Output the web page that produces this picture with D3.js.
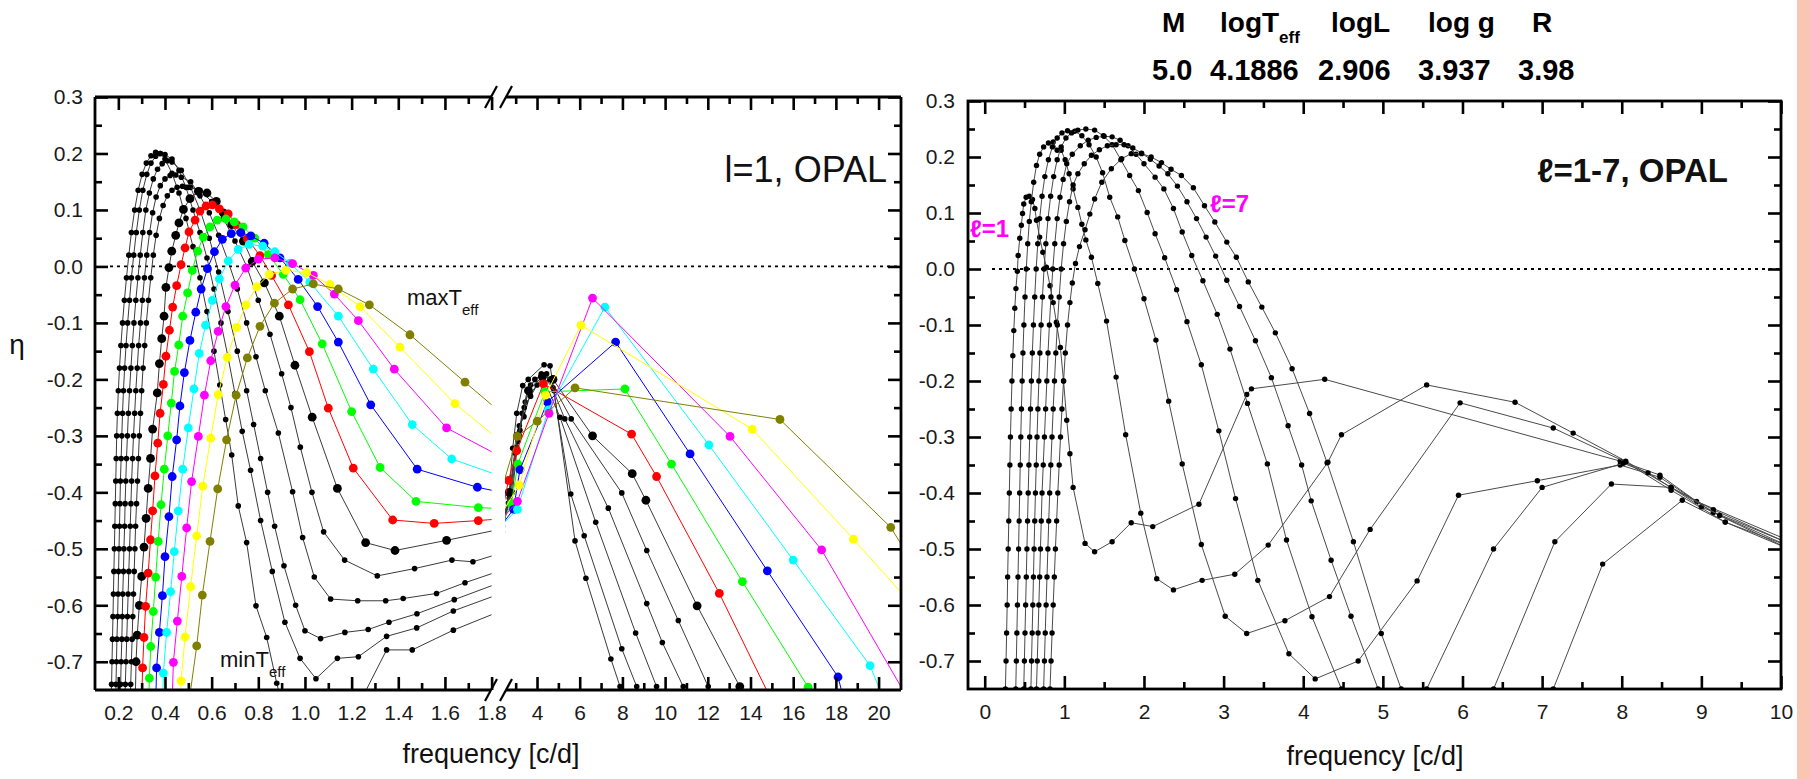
<!DOCTYPE html>
<html>
<head>
<meta charset="utf-8">
<script src="https://cdn.jsdelivr.net/npm/d3@7"></script>
<style>
  body { margin: 0; background: #fff; }
  svg { display: block; }
</style>
</head>
<body>
<script>
// ---------- data: left panel, l=1, segment A (0.1 - 1.8 c/d) ----------
const k1A = [[0.168,-0.78],[0.171,-0.74],[0.173,-0.70],[0.175,-0.66],[0.177,-0.62],[0.179,-0.58],[0.181,-0.54],[0.183,-0.50],[0.185,-0.46],[0.187,-0.42],[0.189,-0.38],[0.191,-0.34],[0.193,-0.30],[0.196,-0.26],[0.2,-0.22],[0.205,-0.18],[0.211,-0.14],[0.218,-0.10],[0.226,-0.06],[0.235,-0.02],[0.245,0.02],[0.256,0.06],[0.27,0.10],[0.285,0.135],[0.302,0.163],[0.32,0.183],[0.34,0.196],[0.36,0.202],[0.38,0.2],[0.40,0.19],[0.43,0.165],[0.46,0.13],[0.49,0.085],[0.52,0.035],[0.55,-0.02],[0.58,-0.08],[0.61,-0.15],[0.635,-0.21],[0.66,-0.271],[0.686,-0.334],[0.714,-0.424],[0.75,-0.489],[0.79,-0.601],[0.836,-0.657],[0.879,-0.738],[0.93,-0.82],[1.1,-0.86],[1.25,-0.76],[1.35,-0.679],[1.46,-0.679],[1.636,-0.644],[1.9,-0.6]];
const k2A = [[0.188,-0.78],[0.19,-0.74],[0.192,-0.70],[0.194,-0.66],[0.197,-0.62],[0.199,-0.58],[0.201,-0.54],[0.203,-0.50],[0.205,-0.46],[0.207,-0.42],[0.209,-0.38],[0.212,-0.34],[0.215,-0.30],[0.218,-0.26],[0.222,-0.22],[0.227,-0.18],[0.233,-0.14],[0.24,-0.10],[0.248,-0.06],[0.256,-0.02],[0.266,0.02],[0.277,0.06],[0.29,0.10],[0.305,0.135],[0.322,0.163],[0.34,0.183],[0.36,0.195],[0.38,0.2],[0.40,0.198],[0.43,0.19],[0.46,0.17],[0.49,0.14],[0.52,0.1],[0.55,0.06],[0.58,0.015],[0.61,-0.04],[0.64,-0.1],[0.67,-0.16],[0.70,-0.225],[0.731,-0.292],[0.767,-0.361],[0.81,-0.45],[0.86,-0.54],[0.914,-0.63],[0.979,-0.694],[1.047,-0.73],[1.139,-0.694],[1.229,-0.691],[1.35,-0.655],[1.479,-0.64],[1.636,-0.61],[1.9,-0.57]];
const k3A = [[0.208,-0.78],[0.21,-0.74],[0.212,-0.70],[0.215,-0.66],[0.217,-0.62],[0.219,-0.58],[0.222,-0.54],[0.224,-0.50],[0.227,-0.46],[0.229,-0.42],[0.232,-0.38],[0.235,-0.34],[0.239,-0.30],[0.243,-0.26],[0.248,-0.22],[0.254,-0.18],[0.26,-0.14],[0.267,-0.10],[0.275,-0.06],[0.284,-0.02],[0.294,0.02],[0.305,0.06],[0.318,0.10],[0.333,0.13],[0.35,0.155],[0.368,0.172],[0.388,0.182],[0.41,0.187],[0.43,0.185],[0.47,0.17],[0.51,0.14],[0.55,0.1],[0.59,0.05],[0.63,-0.01],[0.67,-0.08],[0.71,-0.15],[0.75,-0.22],[0.78,-0.28],[0.81,-0.34],[0.84,-0.40],[0.87,-0.46],[0.91,-0.53],[0.96,-0.6],[1.0,-0.645],[1.067,-0.659],[1.171,-0.648],[1.271,-0.643],[1.36,-0.63],[1.48,-0.615],[1.64,-0.59],[1.9,-0.55]];
const k4A = [[0.228,-0.78],[0.23,-0.74],[0.233,-0.70],[0.236,-0.66],[0.239,-0.62],[0.242,-0.58],[0.245,-0.54],[0.248,-0.50],[0.251,-0.46],[0.254,-0.42],[0.257,-0.38],[0.261,-0.34],[0.265,-0.30],[0.27,-0.26],[0.275,-0.22],[0.281,-0.18],[0.287,-0.14],[0.295,-0.10],[0.303,-0.06],[0.312,-0.02],[0.322,0.02],[0.334,0.06],[0.347,0.095],[0.362,0.123],[0.38,0.143],[0.4,0.155],[0.422,0.161],[0.446,0.162],[0.47,0.158],[0.51,0.15],[0.55,0.125],[0.59,0.095],[0.63,0.055],[0.67,0.01],[0.71,-0.04],[0.75,-0.1],[0.79,-0.16],[0.83,-0.22],[0.886,-0.295],[0.947,-0.399],[0.99,-0.48],[1.04,-0.55],[1.11,-0.589],[1.226,-0.592],[1.346,-0.592],[1.421,-0.588],[1.564,-0.579],[1.686,-0.56],[1.9,-0.53]];
const k5A = [[0.25,-0.78],[0.253,-0.74],[0.256,-0.70],[0.259,-0.66],[0.262,-0.62],[0.265,-0.58],[0.268,-0.54],[0.271,-0.50],[0.274,-0.46],[0.278,-0.42],[0.282,-0.38],[0.286,-0.34],[0.29,-0.30],[0.295,-0.26],[0.3,-0.22],[0.306,-0.18],[0.313,-0.14],[0.32,-0.10],[0.329,-0.06],[0.339,-0.02],[0.35,0.02],[0.362,0.055],[0.376,0.085],[0.392,0.108],[0.41,0.125],[0.43,0.135],[0.452,0.14],[0.475,0.142],[0.5,0.14],[0.55,0.135],[0.6,0.115],[0.65,0.085],[0.7,0.045],[0.75,0.0],[0.8,-0.06],[0.85,-0.12],[0.9,-0.19],[0.94,-0.25],[0.98,-0.32],[1.03,-0.40],[1.08,-0.47],[1.17,-0.52],[1.31,-0.548],[1.47,-0.535],[1.63,-0.52],[1.72,-0.523],[1.9,-0.5]];
const kLA = [[0.272,-0.78],[0.276,-0.70],[0.281,-0.653],[0.29,-0.60],[0.3,-0.549],[0.31,-0.497],[0.319,-0.446],[0.328,-0.393],[0.338,-0.34],[0.347,-0.288],[0.367,-0.224],[0.376,-0.172],[0.386,-0.128],[0.396,-0.088],[0.404,-0.037],[0.417,-0.002],[0.429,0.027],[0.446,0.055],[0.46,0.077],[0.479,0.101],[0.507,0.12],[0.543,0.133],[0.58,0.13],[0.62,0.115],[0.65,0.095],[0.686,0.074],[0.736,0.045],[0.774,0.009],[0.826,-0.029],[0.89,-0.088],[0.957,-0.175],[1.031,-0.267],[1.139,-0.393],[1.26,-0.489],[1.386,-0.503],[1.607,-0.485],[1.9,-0.46]];
const redA = [[0.3,-0.78],[0.304,-0.711],[0.31,-0.657],[0.317,-0.602],[0.328,-0.543],[0.338,-0.484],[0.347,-0.433],[0.357,-0.371],[0.369,-0.313],[0.379,-0.26],[0.393,-0.209],[0.404,-0.159],[0.419,-0.113],[0.433,-0.072],[0.45,-0.034],[0.469,0.003],[0.486,0.033],[0.503,0.061],[0.529,0.082],[0.55,0.098],[0.576,0.107],[0.603,0.109],[0.633,0.102],[0.671,0.093],[0.707,0.074],[0.753,0.049],[0.807,0.019],[0.857,-0.016],[0.929,-0.068],[1.019,-0.151],[1.1,-0.251],[1.207,-0.357],[1.376,-0.449],[1.554,-0.455],[1.743,-0.45],[1.9,-0.445]];
const greenA = [[0.33,-0.78],[0.333,-0.729],[0.339,-0.673],[0.35,-0.611],[0.36,-0.55],[0.371,-0.487],[0.383,-0.422],[0.397,-0.359],[0.412,-0.3],[0.427,-0.242],[0.441,-0.186],[0.459,-0.139],[0.476,-0.088],[0.497,-0.047],[0.517,-0.007],[0.54,0.027],[0.564,0.052],[0.593,0.07],[0.624,0.082],[0.661,0.084],[0.697,0.079],[0.735,0.07],[0.785,0.05],[0.843,0.021],[0.907,-0.014],[0.979,-0.059],[1.074,-0.137],[1.2,-0.257],[1.322,-0.356],[1.476,-0.416],[1.743,-0.427],[1.9,-0.43]];
const blueA = [[0.36,-0.78],[0.364,-0.711],[0.376,-0.648],[0.389,-0.583],[0.4,-0.514],[0.417,-0.443],[0.431,-0.372],[0.45,-0.307],[0.464,-0.247],[0.483,-0.188],[0.507,-0.131],[0.532,-0.081],[0.555,-0.04],[0.582,-0.004],[0.612,0.026],[0.646,0.048],[0.684,0.058],[0.725,0.06],[0.768,0.054],[0.825,0.041],[0.893,0.015],[0.971,-0.023],[1.054,-0.071],[1.143,-0.134],[1.282,-0.245],[1.481,-0.359],[1.739,-0.391],[1.9,-0.405]];
const cyanA = [[0.39,-0.78],[0.393,-0.72],[0.407,-0.648],[0.424,-0.576],[0.44,-0.505],[0.457,-0.433],[0.476,-0.359],[0.5,-0.286],[0.524,-0.217],[0.547,-0.154],[0.574,-0.104],[0.603,-0.06],[0.633,-0.022],[0.671,0.01],[0.714,0.03],[0.761,0.039],[0.819,0.036],[0.871,0.026],[0.936,0.006],[1.021,-0.028],[1.143,-0.088],[1.293,-0.182],[1.46,-0.28],[1.629,-0.341],[1.9,-0.38]];
const magentaA = [[0.43,-0.78],[0.436,-0.701],[0.453,-0.628],[0.472,-0.549],[0.493,-0.463],[0.514,-0.381],[0.543,-0.301],[0.569,-0.228],[0.596,-0.167],[0.628,-0.115],[0.661,-0.071],[0.7,-0.033],[0.746,-0.003],[0.8,0.013],[0.871,0.015],[0.947,0.005],[1.036,-0.016],[1.126,-0.049],[1.229,-0.096],[1.383,-0.182],[1.607,-0.286],[1.9,-0.35]];
const yellowA = [[0.465,-0.78],[0.469,-0.734],[0.486,-0.656],[0.51,-0.567],[0.536,-0.477],[0.562,-0.389],[0.596,-0.304],[0.628,-0.227],[0.667,-0.161],[0.707,-0.108],[0.747,-0.068],[0.793,-0.036],[0.847,-0.014],[0.918,-0.007],[1.007,-0.011],[1.107,-0.032],[1.236,-0.071],[1.407,-0.143],[1.643,-0.243],[1.9,-0.33]];
const oliveA = [[0.5,-0.78],[0.536,-0.672],[0.56,-0.582],[0.593,-0.487],[0.626,-0.394],[0.664,-0.307],[0.705,-0.228],[0.753,-0.162],[0.807,-0.106],[0.869,-0.065],[0.947,-0.04],[1.036,-0.031],[1.143,-0.04],[1.276,-0.068],[1.45,-0.121],[1.686,-0.205],[1.9,-0.28]];

// ---------- data: left panel, segment B (2.5 - 21 c/d) ----------
const k1B = [[2.3,-0.48],[2.66,-0.419],[2.86,-0.322],[3.05,-0.26],[3.33,-0.211],[3.59,-0.2],[4.33,-0.174],[4.61,-0.176],[4.8,-0.22],[5.78,-0.486],[6.29,-0.552],[7.46,-0.695],[7.89,-0.744],[8.5,-0.82]];
const k2B = [[2.3,-0.47],[2.7,-0.41],[2.95,-0.33],[3.17,-0.282],[3.39,-0.266],[3.67,-0.227],[4.27,-0.195],[4.75,-0.215],[5.58,-0.403],[6.21,-0.477],[7.97,-0.677],[8.67,-0.744],[9.3,-0.8]];
const k3B = [[2.3,-0.47],[2.75,-0.40],[3.0,-0.33],[3.2,-0.29],[3.45,-0.24],[3.7,-0.21],[4.2,-0.19],[5.08,-0.267],[6.75,-0.453],[8.62,-0.649],[9.6,-0.744],[10.2,-0.8]];
const k4B = [[2.3,-0.47],[2.8,-0.40],[3.05,-0.32],[3.3,-0.26],[3.55,-0.22],[3.9,-0.2],[4.45,-0.19],[5.3,-0.27],[7.34,-0.428],[9.14,-0.597],[9.87,-0.666],[10.85,-0.744],[11.5,-0.8]];
const k5B = [[2.3,-0.47],[2.85,-0.40],[3.1,-0.31],[3.4,-0.25],[3.7,-0.23],[4.0,-0.21],[4.6,-0.2],[5.6,-0.27],[7.97,-0.401],[9.14,-0.503],[10.62,-0.627],[12.02,-0.744],[12.8,-0.8]];
const kLB = [[2.3,-0.47],[2.7,-0.40],[3.1,-0.3],[3.6,-0.22],[4.25,-0.195],[4.75,-0.2],[6.6,-0.3],[8.46,-0.367],[9.1,-0.414],[11.5,-0.601],[13.5,-0.744],[14.3,-0.8]];
const redB = [[2.3,-0.45],[2.66,-0.379],[3.05,-0.326],[4.3,-0.208],[8.43,-0.297],[9.6,-0.372],[12.54,-0.579],[15.4,-0.8]];
const greenB = [[2.3,-0.46],[2.8,-0.42],[3.1,-0.35],[4.37,-0.222],[8.12,-0.217],[10.3,-0.35],[13.62,-0.558],[16.7,-0.745],[17.3,-0.8]];
const blueB = [[2.3,-0.46],[2.9,-0.43],[3.2,-0.36],[4.48,-0.24],[7.68,-0.134],[11.17,-0.332],[14.79,-0.539],[18.1,-0.727],[18.6,-0.8]];
const cyanB = [[2.3,-0.46],[3.08,-0.43],[4.53,-0.254],[7.18,-0.072],[12.05,-0.316],[16.0,-0.52],[19.6,-0.707],[20.6,-0.8]];
const magentaB = [[2.3,-0.45],[3.08,-0.416],[4.56,-0.26],[6.6,-0.056],[13.04,-0.301],[17.33,-0.502],[21.6,-0.78]];
const yellowB = [[2.3,-0.44],[3.17,-0.387],[4.4,-0.228],[6.06,-0.104],[14.08,-0.288],[18.82,-0.483],[22.3,-0.63]];
const oliveB = [[2.3,-0.4],[3.08,-0.301],[4.01,-0.274],[5.78,-0.215],[15.38,-0.271],[20.57,-0.462],[22,-0.55]];

// ---------- data: right panel, l = 1..7 ----------
const ell1 = [[0.255,-0.78],[0.26,-0.75],[0.268,-0.70],[0.275,-0.65],[0.282,-0.60],[0.288,-0.55],[0.295,-0.50],[0.302,-0.45],[0.309,-0.40],[0.316,-0.35],[0.323,-0.30],[0.332,-0.25],[0.342,-0.20],[0.353,-0.155],[0.365,-0.11],[0.378,-0.07],[0.392,-0.035],[0.41,-0.004],[0.42,0.024],[0.44,0.055],[0.46,0.078],[0.475,0.099],[0.49,0.116],[0.52,0.128],[0.56,0.13],[0.6,0.124],[0.63,0.108],[0.65,0.087],[0.69,0.057],[0.73,0.03],[0.775,0.003],[0.82,-0.03],[0.86,-0.06],[0.9,-0.095],[0.95,-0.14],[0.99,-0.2],[1.03,-0.27],[1.07,-0.33],[1.11,-0.39],[1.26,-0.49],[1.38,-0.505],[1.6,-0.487],[1.84,-0.453],[2.11,-0.46],[2.69,-0.42],[3.29,-0.224],[3.35,-0.214],[4.27,-0.197],[7.98,-0.343],[8.48,-0.368],[8.94,-0.415],[10.1,-0.485]];
const ell2 = [[0.385,-0.78],[0.39,-0.75],[0.397,-0.70],[0.404,-0.65],[0.411,-0.60],[0.418,-0.55],[0.425,-0.50],[0.432,-0.45],[0.439,-0.40],[0.446,-0.35],[0.453,-0.30],[0.461,-0.25],[0.47,-0.20],[0.48,-0.15],[0.492,-0.10],[0.506,-0.05],[0.522,0.0],[0.54,0.045],[0.56,0.085],[0.585,0.12],[0.615,0.155],[0.65,0.185],[0.69,0.205],[0.74,0.218],[0.8,0.225],[0.86,0.227],[0.91,0.212],[0.96,0.212],[1.01,0.195],[1.06,0.17],[1.11,0.143],[1.17,0.11],[1.22,0.08],[1.27,0.052],[1.34,0.021],[1.42,-0.026],[1.53,-0.093],[1.65,-0.193],[1.77,-0.296],[1.96,-0.436],[2.16,-0.553],[2.37,-0.573],[2.73,-0.556],[3.14,-0.545],[3.56,-0.493],[4.31,-0.345],[4.48,-0.296],[5.55,-0.207],[6.66,-0.238],[7.39,-0.293],[8.05,-0.343],[8.62,-0.39],[9.15,-0.43],[10.1,-0.49]];
const ell3 = [[0.485,-0.78],[0.49,-0.75],[0.498,-0.70],[0.506,-0.65],[0.514,-0.60],[0.522,-0.55],[0.53,-0.50],[0.538,-0.45],[0.546,-0.40],[0.555,-0.35],[0.565,-0.30],[0.575,-0.25],[0.586,-0.20],[0.598,-0.15],[0.612,-0.10],[0.628,-0.05],[0.646,0.0],[0.666,0.045],[0.69,0.09],[0.72,0.13],[0.755,0.165],[0.8,0.195],[0.85,0.218],[0.91,0.234],[0.97,0.243],[1.04,0.247],[1.13,0.246],[1.22,0.238],[1.31,0.222],[1.4,0.2],[1.48,0.172],[1.57,0.128],[1.67,0.093],[1.76,0.051],[1.88,0.0],[2.0,-0.053],[2.15,-0.127],[2.31,-0.236],[2.48,-0.348],[2.72,-0.492],[3.02,-0.62],[3.29,-0.651],[3.77,-0.628],[4.33,-0.585],[4.84,-0.465],[5.97,-0.239],[7.14,-0.284],[8.05,-0.345],[8.62,-0.395],[9.3,-0.452],[10.1,-0.495]];
const ell4 = [[0.575,-0.78],[0.58,-0.75],[0.588,-0.70],[0.596,-0.65],[0.604,-0.60],[0.612,-0.55],[0.62,-0.50],[0.628,-0.45],[0.637,-0.40],[0.647,-0.35],[0.657,-0.30],[0.668,-0.25],[0.68,-0.20],[0.693,-0.15],[0.708,-0.10],[0.725,-0.05],[0.745,0.0],[0.768,0.045],[0.795,0.09],[0.828,0.13],[0.866,0.165],[0.91,0.195],[0.96,0.218],[1.02,0.234],[1.09,0.243],[1.17,0.248],[1.27,0.25],[1.38,0.248],[1.49,0.238],[1.6,0.222],[1.71,0.195],[1.82,0.167],[1.93,0.14],[2.04,0.101],[2.14,0.063],[2.26,0.02],[2.41,-0.037],[2.54,-0.094],[2.72,-0.171],[2.94,-0.289],[3.15,-0.41],[3.43,-0.556],[3.82,-0.687],[4.15,-0.732],[4.69,-0.70],[5.43,-0.557],[5.95,-0.404],[6.94,-0.378],[7.98,-0.35],[8.48,-0.372],[9.15,-0.435],[10.1,-0.5]];
const ell5 = [[0.645,-0.78],[0.65,-0.75],[0.66,-0.70],[0.67,-0.65],[0.68,-0.60],[0.69,-0.55],[0.70,-0.50],[0.71,-0.45],[0.72,-0.40],[0.735,-0.35],[0.75,-0.30],[0.765,-0.25],[0.78,-0.20],[0.795,-0.15],[0.812,-0.10],[0.832,-0.05],[0.855,0.0],[0.88,0.045],[0.91,0.09],[0.945,0.128],[0.985,0.16],[1.03,0.188],[1.1,0.205],[1.2,0.22],[1.3,0.23],[1.4,0.235],[1.5,0.237],[1.6,0.236],[1.7,0.23],[1.8,0.22],[1.9,0.205],[2.0,0.188],[2.14,0.164],[2.25,0.143],[2.37,0.108],[2.48,0.066],[2.6,0.024],[2.74,-0.021],[2.92,-0.081],[3.08,-0.143],[3.3,-0.24],[3.55,-0.348],[3.79,-0.484],[4.11,-0.621],[4.48,-0.75],[5.0,-0.88],[5.55,-0.75],[6.39,-0.5],[7.0,-0.39],[8.02,-0.347],[8.33,-0.364],[9.0,-0.425],[10.1,-0.49]];
const ell6 = [[0.735,-0.78],[0.74,-0.75],[0.75,-0.70],[0.76,-0.65],[0.771,-0.60],[0.782,-0.55],[0.793,-0.50],[0.804,-0.45],[0.816,-0.40],[0.83,-0.35],[0.845,-0.30],[0.86,-0.25],[0.876,-0.20],[0.893,-0.15],[0.912,-0.10],[0.935,-0.05],[0.96,0.0],[0.99,0.045],[1.025,0.085],[1.065,0.12],[1.11,0.15],[1.17,0.17],[1.25,0.188],[1.34,0.203],[1.44,0.213],[1.54,0.22],[1.65,0.222],[1.75,0.222],[1.86,0.216],[1.97,0.207],[2.08,0.196],[2.19,0.184],[2.3,0.17],[2.42,0.148],[2.54,0.12],[2.66,0.09],[2.78,0.057],[2.9,0.023],[3.04,-0.02],[3.2,-0.067],[3.4,-0.128],[3.6,-0.194],[3.81,-0.28],[3.98,-0.35],[4.1,-0.414],[4.35,-0.52],[4.6,-0.62],[4.94,-0.75],[5.6,-0.9],[6.39,-0.75],[7.16,-0.487],[7.87,-0.384],[8.62,-0.39],[9.23,-0.44],[10.1,-0.495]];
const ell7 = [[0.815,-0.78],[0.82,-0.75],[0.833,-0.70],[0.846,-0.65],[0.86,-0.60],[0.874,-0.55],[0.888,-0.50],[0.903,-0.45],[0.918,-0.40],[0.935,-0.35],[0.952,-0.30],[0.97,-0.25],[0.99,-0.20],[1.012,-0.15],[1.04,-0.10],[1.07,-0.06],[1.1,-0.025],[1.14,0.01],[1.19,0.04],[1.26,0.07],[1.32,0.098],[1.38,0.125],[1.47,0.155],[1.59,0.179],[1.72,0.197],[1.84,0.206],[1.97,0.206],[2.09,0.2],[2.22,0.19],[2.34,0.178],[2.47,0.167],[2.62,0.145],[2.76,0.113],[2.89,0.084],[3.04,0.048],[3.16,0.021],[3.31,-0.023],[3.48,-0.068],[3.65,-0.114],[3.86,-0.178],[4.08,-0.258],[4.3,-0.346],[4.63,-0.487],[4.98,-0.651],[5.23,-0.75],[6.2,-0.95],[7.14,-0.75],[7.76,-0.527],[8.76,-0.413],[9.3,-0.452],[10.1,-0.5]];

// ---------- ticks and labels ----------
const yTicks = [-0.7,-0.6,-0.5,-0.4,-0.3,-0.2,-0.1,0,0.1,0.2,0.3];
const yMinor = [-0.65,-0.55,-0.45,-0.35,-0.25,-0.15,-0.05,0.05,0.15,0.25];
const segATicks = [0.2,0.4,0.6,0.8,1.0,1.2,1.4,1.6,1.8];
const segAMinor = [0.3,0.5,0.7,0.9,1.1,1.3,1.5,1.7];
const segBTicks = [4,6,8,10,12,14,16,18,20];
const segBMinor = [3,5,7,9,11,13,15,17,19];
const rTicks = [0,1,2,3,4,5,6,7,8,9,10];
const rMinor = [0.5,1.5,2.5,3.5,4.5,5.5,6.5,7.5,8.5,9.5];
const headerNames = ["M", "logT", "logL", "log g", "R"];
const headerValues = ["5.0", "4.1886", "2.906", "3.937", "3.98"];

// ---------- drawing ----------
const FONT = "'Liberation Sans', Arial, Helvetica, sans-serif";
const W = 1810, H = 779;

const svg = d3.select("body").append("svg").attr("width", W).attr("height", H);
svg.append("rect").attr("width", W).attr("height", H).attr("fill", "#fff");
svg.append("rect").attr("x", 1797).attr("width", 13).attr("height", H).attr("fill", "#f8c6b2");

const yL = d3.scaleLinear().domain([-0.75, 0.3]).range([690, 97]);
const xA = d3.scaleLinear().domain([0.1, 1.8]).range([95, 491.6]);
const xB = d3.scaleLinear().domain([2.5, 21.05]).range([505, 901]);
const yR = d3.scaleLinear().domain([-0.75, 0.3]).range([689, 101]);
const xR = d3.scaleLinear().domain([-0.21, 10]).range([968, 1781]);

const defs = svg.append("defs");
function addClip(id, x0, x1, y0, y1) {
  defs.append("clipPath").attr("id", id).append("rect")
    .attr("x", x0).attr("y", y0).attr("width", x1 - x0).attr("height", y1 - y0);
}
addClip("clipA", 95, 491.6, 97, 690);
addClip("clipB", 505, 901, 97, 690);
addClip("clipR", 968, 1781, 101, 689);

function drawCurve(g, pts, x, y, fill, stroke, r) {
  const line = d3.line().x(d => x(d[0])).y(d => y(d[1]));
  g.append("path").datum(pts).attr("d", line)
    .attr("fill", "none").attr("stroke", stroke).attr("stroke-width", 1);
  g.append("g").selectAll("circle").data(pts).join("circle")
    .attr("cx", d => x(d[0])).attr("cy", d => y(d[1]))
    .attr("r", r).attr("fill", fill);
}

// left panel series: black ones first, then coloured
const leftSeries = [
  { a: k1A, b: k1B, fill: "#000", stroke: "#3a3a3a", r: 2.8 },
  { a: k2A, b: k2B, fill: "#000", stroke: "#3a3a3a", r: 2.8 },
  { a: k3A, b: k3B, fill: "#000", stroke: "#3a3a3a", r: 2.8 },
  { a: k4A, b: k4B, fill: "#000", stroke: "#3a3a3a", r: 2.8 },
  { a: k5A, b: k5B, fill: "#000", stroke: "#3a3a3a", r: 2.8 },
  { a: kLA, b: kLB, fill: "#000", stroke: "#3a3a3a", r: 4.4 },
  { a: redA, b: redB, fill: "#ff0000", stroke: "#ff0000", r: 4.4 },
  { a: greenA, b: greenB, fill: "#00ff00", stroke: "#00ff00", r: 4.4 },
  { a: blueA, b: blueB, fill: "#0000ff", stroke: "#0000ff", r: 4.4 },
  { a: cyanA, b: cyanB, fill: "#00ffff", stroke: "#00ffff", r: 4.4 },
  { a: magentaA, b: magentaB, fill: "#ff00ff", stroke: "#ff00ff", r: 4.4 },
  { a: yellowA, b: yellowB, fill: "#ffff00", stroke: "#ffff00", r: 4.4 },
  { a: oliveA, b: oliveB, fill: "#808000", stroke: "#808000", r: 4.4 }
];

// zero lines
svg.append("line").attr("x1", 110).attr("x2", 901).attr("y1", yL(0)).attr("y2", yL(0))
  .attr("stroke", "#000").attr("stroke-width", 1.8).attr("stroke-dasharray", "3,4");
svg.append("line").attr("x1", 992).attr("x2", 1781).attr("y1", yR(0)).attr("y2", yR(0))
  .attr("stroke", "#000").attr("stroke-width", 1.8).attr("stroke-dasharray", "3,4");

const gA = svg.append("g").attr("clip-path", "url(#clipA)");
const gB = svg.append("g").attr("clip-path", "url(#clipB)");
leftSeries.forEach(s => {
  drawCurve(gA, s.a, xA, yL, s.fill, s.stroke, s.r);
  drawCurve(gB, s.b, xB, yL, s.fill, s.stroke, s.r);
});

const gR = svg.append("g").attr("clip-path", "url(#clipR)");
[ell1, ell2, ell3, ell4, ell5, ell6, ell7].forEach(pts => drawCurve(gR, pts, xR, yR, "#000", "#4a4a4a", 2.7));

// axes
function styleAxis(g, size) {
  g.select(".domain").remove();
  g.selectAll(".tick line").attr("stroke", "#000").attr("stroke-width", 2.6);
  g.selectAll(".tick text").attr("font-size", size).attr("font-family", FONT).attr("fill", "#1a1a1a");
}
function addAxis(axis, tx, ty) {
  svg.append("g").attr("transform", `translate(${tx},${ty})`)
    .call(axis).call(g => styleAxis(g, 21));
}
const fmt1 = d => d.toFixed(1);

// left panel
addAxis(d3.axisBottom(xA).tickValues(segATicks).tickSize(-13).tickPadding(15).tickFormat(fmt1), 0, 690);
addAxis(d3.axisBottom(xA).tickValues(segAMinor).tickSize(-7).tickFormat(""), 0, 690);
addAxis(d3.axisTop(xA).tickValues(segATicks).tickSize(-13).tickFormat(""), 0, 97);
addAxis(d3.axisTop(xA).tickValues(segAMinor).tickSize(-7).tickFormat(""), 0, 97);
addAxis(d3.axisBottom(xB).tickValues(segBTicks).tickSize(-13).tickPadding(15).tickFormat(d => d), 0, 690);
addAxis(d3.axisBottom(xB).tickValues(segBMinor).tickSize(-7).tickFormat(""), 0, 690);
addAxis(d3.axisTop(xB).tickValues(segBTicks).tickSize(-13).tickFormat(""), 0, 97);
addAxis(d3.axisTop(xB).tickValues(segBMinor).tickSize(-7).tickFormat(""), 0, 97);
addAxis(d3.axisLeft(yL).tickValues(yTicks).tickSize(-13).tickPadding(12).tickFormat(fmt1), 95, 0);
addAxis(d3.axisLeft(yL).tickValues(yMinor).tickSize(-7).tickFormat(""), 95, 0);
addAxis(d3.axisRight(yL).tickValues(yTicks).tickSize(-13).tickFormat(""), 901, 0);
addAxis(d3.axisRight(yL).tickValues(yMinor).tickSize(-7).tickFormat(""), 901, 0);

// right panel
addAxis(d3.axisBottom(xR).tickValues(rTicks).tickSize(-13).tickPadding(15).tickFormat(d => d), 0, 689);
addAxis(d3.axisBottom(xR).tickValues(rMinor).tickSize(-7).tickFormat(""), 0, 689);
addAxis(d3.axisTop(xR).tickValues(rTicks).tickSize(-13).tickFormat(""), 0, 101);
addAxis(d3.axisTop(xR).tickValues(rMinor).tickSize(-7).tickFormat(""), 0, 101);
addAxis(d3.axisLeft(yR).tickValues(yTicks).tickSize(-13).tickPadding(13).tickFormat(fmt1), 968, 0);
addAxis(d3.axisLeft(yR).tickValues(yMinor).tickSize(-7).tickFormat(""), 968, 0);
addAxis(d3.axisRight(yR).tickValues(yTicks).tickSize(-13).tickFormat(""), 1781, 0);
addAxis(d3.axisRight(yR).tickValues(yMinor).tickSize(-7).tickFormat(""), 1781, 0);

// frames
const frame = svg.append("g").attr("stroke", "#000").attr("stroke-width", 2.8).attr("fill", "none");
frame.append("line").attr("x1", 95).attr("x2", 95).attr("y1", 97).attr("y2", 690);
frame.append("line").attr("x1", 901).attr("x2", 901).attr("y1", 97).attr("y2", 690);
[97, 690].forEach(yy => {
  frame.append("line").attr("x1", 95).attr("x2", 491).attr("y1", yy).attr("y2", yy);
  frame.append("line").attr("x1", 506).attr("x2", 901).attr("y1", yy).attr("y2", yy);
  [491, 506].forEach(xx => {
    frame.append("line").attr("x1", xx - 6).attr("x2", xx + 6).attr("y1", yy + 11).attr("y2", yy - 11)
      .attr("stroke-width", 2.2);
  });
});
frame.append("rect").attr("x", 968).attr("y", 101).attr("width", 1781 - 968).attr("height", 689 - 101);

// texts
const txt = (x, y, s, size, opts = {}) => svg.append("text").attr("x", x).attr("y", y)
  .attr("font-family", FONT).attr("font-size", size)
  .attr("font-weight", opts.bold ? "bold" : "normal")
  .attr("text-anchor", opts.anchor || "start")
  .attr("fill", opts.fill || "#111").text(s);

txt(17, 354, "η", 28, { anchor: "middle" });
txt(491, 763, "frequency [c/d]", 27, { anchor: "middle" });
txt(1375, 765, "frequency [c/d]", 27, { anchor: "middle" });
txt(887, 182, "l=1, OPAL", 36, { anchor: "end" });

const maxT = txt(407, 305, "maxT", 22);
maxT.append("tspan").attr("font-size", 15).attr("dy", 10).text("eff");
const minT = txt(220, 667, "minT", 22);
minT.append("tspan").attr("font-size", 15).attr("dy", 10).text("eff");

txt(1728, 182, "ℓ=1-7, OPAL", 33, { anchor: "end", bold: true });
txt(970, 237, "ℓ=1", 24, { bold: true, fill: "#ff00ff" });
txt(1210, 212, "ℓ=7", 24, { bold: true, fill: "#ff00ff" });

// header table
const nameX = [1162, 1220, 1331, 1428, 1532];
const valueX = [1152, 1210, 1318, 1418, 1518];
headerNames.forEach((n, i) => {
  const t = txt(nameX[i], 32, n, 28, { bold: true, fill: "#000" });
  if (n === "logT") t.append("tspan").attr("font-size", 17).attr("dy", 11).text("eff");
});
headerValues.forEach((v, i) => txt(valueX[i], 80, v, 29, { bold: true, fill: "#000" }));
</script>
</body>
</html>
